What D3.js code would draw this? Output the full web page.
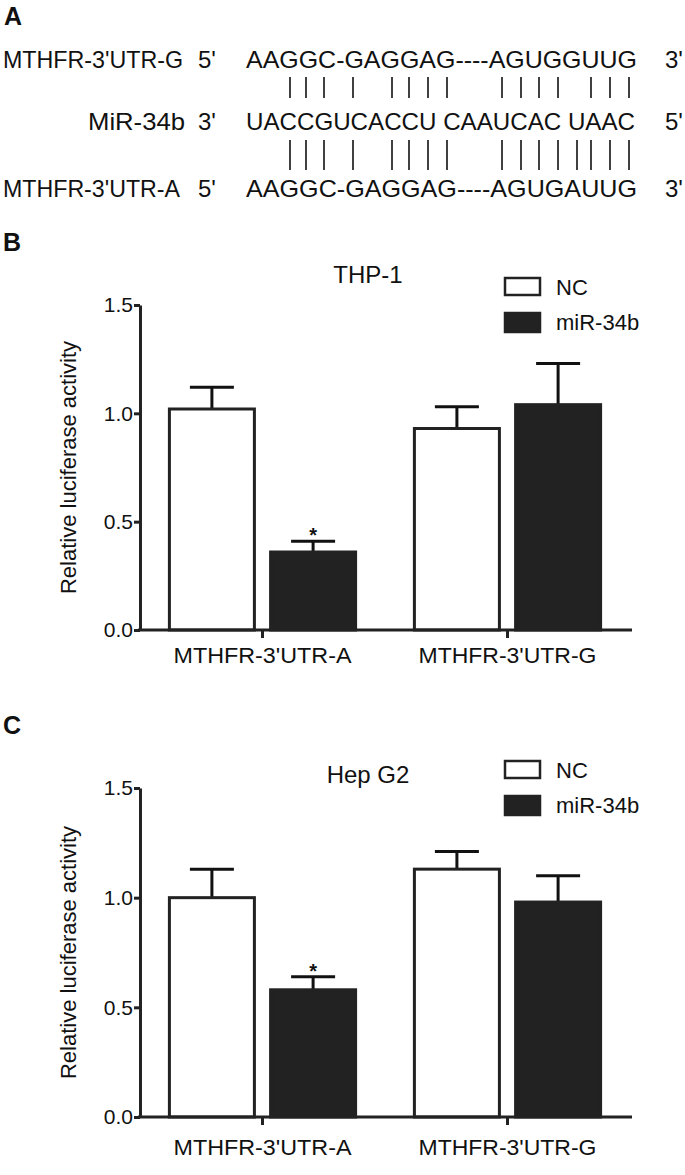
<!DOCTYPE html><html><head><script src="https://cdn.jsdelivr.net/npm/d3@7"></script>
<style>body{margin:0;background:#fff}text{font-family:"Liberation Sans",Arial,sans-serif;fill:#111}</style></head><body>
<svg id="c" width="685" height="1175"></svg>
<script>
const seqLabels=["MTHFR-3'UTR-G","MiR-34b","MTHFR-3'UTR-A"];
const seqEnds=[["5'","3'"],["3'","5'"],["5'","3'"]];
const seqs=["AAGGC-GAGGAG----AGUGGUUG","UACCGUCACCU CAAUCAC UAAC","AAGGC-GAGGAG----AGUGAUUG"];
const topPairs=[290,306,324,353,392,409,428,447,502,521,539,558,591,610,629];
const botPairs=[290,306,324,353,392,409,428,447,502,521,539,558,577,591,610,629];
const categories=["MTHFR-3'UTR-A","MTHFR-3'UTR-G"];
const series=["NC","miR-34b"];
const thpMeans=[[1.02,0.36],[0.93,1.04]];
const thpErr=[[0.10,0.05],[0.10,0.19]];
const hepMeans=[[1.00,0.58],[1.13,0.98]];
const hepErr=[[0.13,0.06],[0.08,0.12]];
const yTicks=[0,0.5,1.0,1.5];

const svg=d3.select("#c");
const FS=24;
svg.append("text").attr("x",4).attr("y",25).attr("font-size",25).attr("font-weight","bold").text("A");
const rowY=[68,130,197];
const labW=[180,97,177];
seqLabels.forEach((l,i)=>{
  svg.append("text").attr("x",i==1?185:3).attr("y",rowY[i]).attr("font-size",FS).attr("text-anchor",i==1?"end":"start").attr("textLength",labW[i]).attr("lengthAdjust","spacingAndGlyphs").text(l);
  svg.append("text").attr("x",198).attr("y",rowY[i]).attr("font-size",FS).text(seqEnds[i][0]);
  svg.append("text").attr("x",665).attr("y",rowY[i]).attr("font-size",FS).text(seqEnds[i][1]);
  svg.append("text").attr("x",246).attr("y",rowY[i]).attr("font-size",FS).attr("textLength",i==1?389:391).attr("lengthAdjust","spacingAndGlyphs").style("white-space","pre").text(seqs[i]);
});
svg.selectAll(".tp").data(topPairs).enter().append("line").attr("x1",d=>d).attr("x2",d=>d).attr("y1",77).attr("y2",98).attr("stroke","#111").attr("stroke-width",1.6);
svg.selectAll(".bp").data(botPairs).enter().append("line").attr("x1",d=>d).attr("x2",d=>d).attr("y1",140).attr("y2",170).attr("stroke","#111").attr("stroke-width",1.6);

function panel(letter,letterY,title,titleY,means,errs,y0,y1,legY,catY){
  svg.append("text").attr("x",3).attr("y",letterY).attr("font-size",25).attr("font-weight","bold").text(letter);
  const y=d3.scaleLinear().domain([0,1.5]).range([y0,y1]);
  const x0=d3.scaleBand().domain(categories).range([140,630]).paddingInner(0.24).paddingOuter(0.12);
  const x1=d3.scaleBand().domain(series).range([0,x0.bandwidth()]).paddingInner(0.16);
  const g=svg.append("g");
  categories.forEach((c,ci)=>series.forEach((s,si)=>{
    const v=means[ci][si],e=errs[ci][si];
    const bx=x0(c)+x1(s),bw=x1.bandwidth(),cx=bx+bw/2;
    g.append("line").attr("x1",cx).attr("x2",cx).attr("y1",y(v)).attr("y2",y(v+e)).attr("stroke","#111").attr("stroke-width",3);
    g.append("line").attr("x1",cx-22).attr("x2",cx+22).attr("y1",y(v+e)).attr("y2",y(v+e)).attr("stroke","#111").attr("stroke-width",3);
    g.append("rect").attr("x",bx).attr("y",y(v)).attr("width",bw).attr("height",y(0)-y(v)).attr("fill",si?"#222":"#fff").attr("stroke","#222").attr("stroke-width",3);
    if(ci==0&&si==1) g.append("text").attr("x",cx).attr("y",y(v+e)+1).attr("text-anchor","middle").attr("font-size",20).attr("font-weight","bold").text("*");
  }));
  const ya=svg.append("g").attr("transform","translate(140,0)").call(d3.axisLeft(y).tickValues(yTicks).tickFormat(d3.format(".1f")).tickSize(6).tickSizeOuter(0));
  ya.selectAll("text").attr("font-size",21).attr("x",-7).style("font-family","Liberation Sans").attr("fill","#111");
  const xa=svg.append("g").attr("transform",`translate(0,${y0})`).call(d3.axisBottom(x0).tickSize(8).tickSizeOuter(0).tickFormat(()=>""));
  xa.selectAll("path,line").attr("stroke-width",3).attr("stroke","#222"); ya.selectAll("path,line").attr("stroke-width",3).attr("stroke","#222");
  xa.select("path").attr("d",`M138,0H632`);
  categories.forEach(c=>svg.append("text").attr("x",x0(c)+x0.bandwidth()/2).attr("y",catY).attr("text-anchor","middle").attr("font-size",22).attr("textLength",178).attr("lengthAdjust","spacingAndGlyphs").text(c));
  svg.append("text").attr("transform",`translate(76,${(y0+y1)/2}) rotate(-90)`).attr("text-anchor","middle").attr("font-size",22).text("Relative luciferase activity");
  svg.append("text").attr("x",368).attr("y",titleY).attr("text-anchor","middle").attr("font-size",24).text(title);
  series.forEach((s,i)=>{
    svg.append("rect").attr("x",505).attr("y",legY+i*35).attr("width",35).attr("height",i?19:17).attr("fill",i?"#222":"#fff").attr("stroke","#222").attr("stroke-width",2.5);
    svg.append("text").attr("x",556).attr("y",legY+i*35+17).attr("font-size",22).text(s);
  });
}
panel("B",251,"THP-1",283,thpMeans,thpErr,630,305,278,663);
panel("C",734,"Hep G2",783,hepMeans,hepErr,1117,788,761,1155);
</script></body></html>
